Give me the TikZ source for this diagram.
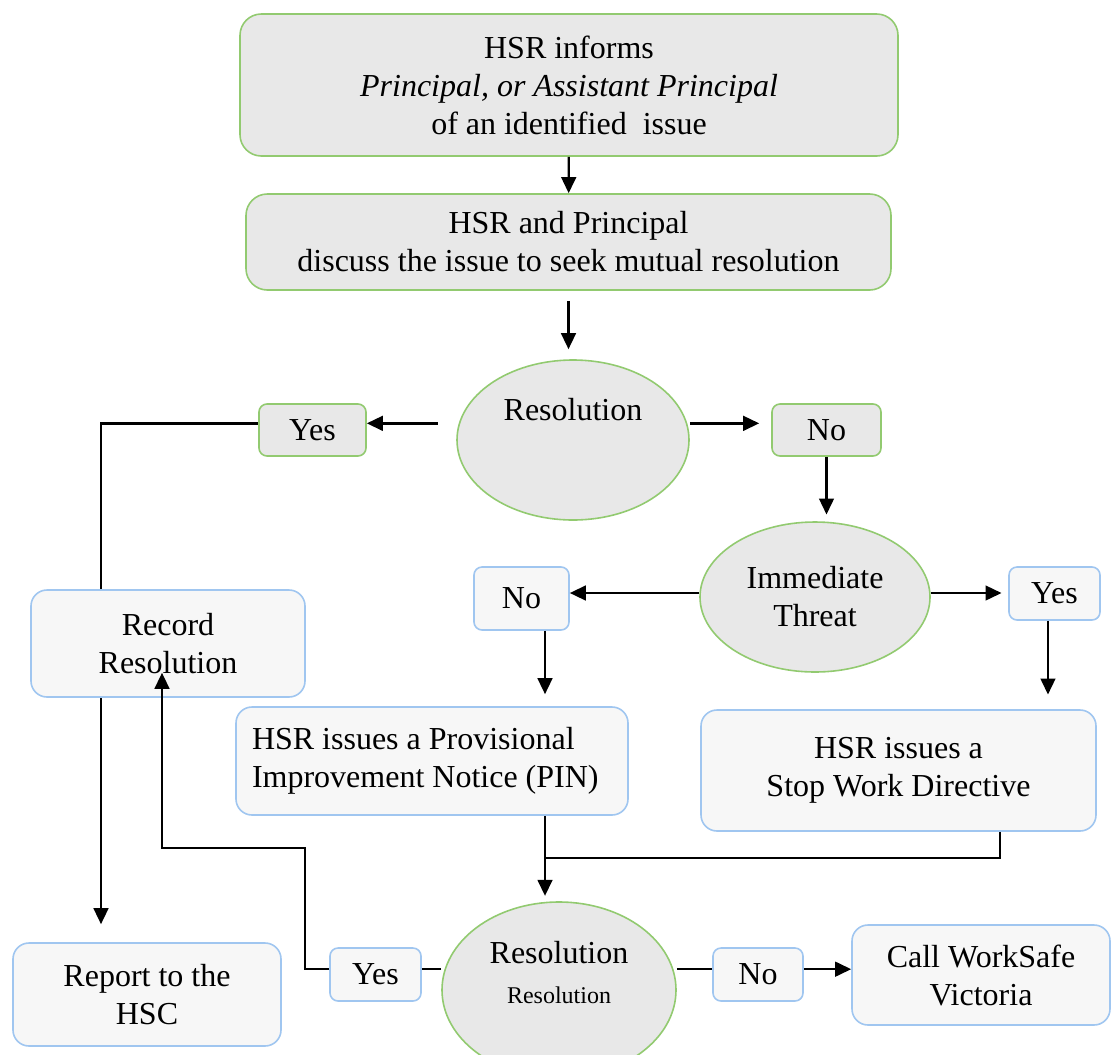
\documentclass[tikz,border=0pt]{standalone}
\usepackage{fontspec}
\setmainfont{Liberation Serif}
\usetikzlibrary{shapes.geometric,arrows.meta,backgrounds}
\definecolor{boxgreen}{RGB}{146,202,112}
\definecolor{boxblue}{RGB}{160,198,240}
\definecolor{boxgray}{RGB}{232,232,232}
\definecolor{boxwhite}{RGB}{247,247,247}
\begin{document}
\begin{tikzpicture}[x=0.75pt,y=-0.75pt,
        txt/.style={font=\fontsize{24}{28.5}\selectfont, align=center, inner sep=0pt},
        greenbox/.style={txt, draw=boxgreen, fill=boxgray, line width=1.2pt, rounded corners=16pt},
        bluebox/.style={txt, draw=boxblue, fill=boxwhite, line width=1.2pt, rounded corners=12pt},
        smallgreen/.style={greenbox, rounded corners=6pt},
        smallblue/.style={bluebox, rounded corners=6pt},
        choice/.style={txt, ellipse, draw=boxgreen, fill=boxgray, line width=1.2pt},
        link/.style={line width=1.8pt},
        arr/.style={link, -{Triangle[length=12pt,width=11pt]}}]
        \useasboundingbox (0,0) rectangle (1113,1054);

        \node[greenbox, minimum width=493.5pt, minimum height=106.5pt] (top) at (569,85)
            {HSR informs\\\textit{Principal, or Assistant Principal}\\of an identified\ \ issue};
        \node[greenbox, minimum width=483.75pt, minimum height=72pt] (disc) at (568.5,242)
            {HSR and Principal\\discuss the issue to seek mutual resolution};
        \node[choice, minimum width=174pt, minimum height=120pt,
            label={[txt,yshift=22.5pt]center:Resolution}] (res1) at (573,440) {};
        \node[smallgreen, minimum width=80.25pt, minimum height=39pt] (yes1) at (312.5,430) {Yes};
        \node[smallgreen, minimum width=81.75pt, minimum height=39pt] (no1) at (826.5,430) {No};
        \node[choice, minimum width=172.5pt, minimum height=112.5pt] (threat) at (815,597) {Immediate\\Threat};
        \node[smallblue, minimum width=71.25pt, minimum height=47.25pt] (no2) at (521.5,598.5) {No};
        \node[smallblue, minimum width=68.25pt, minimum height=39.75pt] (yes2) at (1054.5,593.5) {Yes};
        \node[bluebox, align=flush left, text width=270pt, minimum width=294pt, minimum height=81pt] (pin) at (432,761)
            {HSR issues a Provisional\\Improvement Notice (PIN)};
        \node[bluebox, minimum width=296.25pt, minimum height=90.75pt] (swd) at (898.5,770.5)
            {HSR issues a\\Stop Work Directive};
        \node[bluebox, minimum width=205.5pt, minimum height=80.25pt] (record) at (168,643.5) {Record\\Resolution};
        \node[choice, minimum width=175.5pt, minimum height=132pt,
            label={[txt,yshift=27.75pt]center:Resolution},
            label={[inner sep=0pt,font=\fontsize{18}{22}\selectfont,yshift=-3.75pt]center:Resolution}] (res2) at (559,990) {};
        \node[smallblue, minimum width=68.25pt, minimum height=39.75pt] (yes3) at (375.5,974.5) {Yes};
        \node[smallblue, minimum width=67.5pt, minimum height=39.75pt] (no3) at (758,974.5) {No};
        \node[bluebox, minimum width=193.5pt, minimum height=75pt] (call) at (981,975) {Call WorkSafe\\Victoria};
        \node[bluebox, minimum width=201pt, minimum height=77.25pt] (report) at (147,994.5) {Report to the\\HSC};
        \coordinate (mid) at (545,858);
        \coordinate (bend) at (305,848);

        \draw[arr] (top) -- (disc);
        \draw[arr, shorten <=7.5pt, shorten >=7.5pt] (disc.south) -- (disc.south |- res1.north);
        \draw[arr, shorten <=14pt] ([yshift=5pt]res1.west |- yes1.east) -- ([yshift=5pt]yes1.east);
        \begin{pgfonlayer}{background}
            \draw[arr, shorten >=13.5pt] ([yshift=5pt]yes1.west) -| ([xshift=-34.5pt]report.north);
        \end{pgfonlayer}
        \draw[arr, shorten >=9pt] ([yshift=5pt]res1.east |- no1.west) -- ([yshift=5pt]no1.west);
        \draw[arr, shorten >=5pt] (no1.south) -- (no1.south |- threat.north);
        \draw[arr] ([yshift=3pt]threat.west) -- ([yshift=3pt]threat.west -| no2.east);
        \draw[arr, shorten >=5pt] ([yshift=3pt]threat.east) -- ([yshift=3pt]threat.east -| yes2.west);
        \draw[arr, shorten >=9pt] (no2.south -| mid) -- (pin.north -| mid);
        \draw[arr, shorten >=11pt] ([xshift=-4.9pt]yes2.south) -- ([xshift=-4.9pt]yes2.south |- swd.north);
        \draw[link] (pin.south -| mid) -- (mid);
        \draw[link] ([xshift=76pt]swd.south) |- (mid);
        \draw[arr, shorten >=4pt] (mid) -- (mid |- res2.north);
        \draw[link] ([yshift=4pt]res2.west |- yes3.east) -- ([yshift=4pt]yes3.east);
        \draw[arr] ([yshift=4pt]yes3.west) -| (bend) -| ([xshift=-4.5pt,yshift=18.75pt]record.south);
        \draw[link] ([yshift=4pt]res2.east |- no3.west) -- ([yshift=4pt]no3.west);
        \draw[arr] ([yshift=4pt]no3.east) -- ([yshift=4pt]no3.east -| call.west);
    \end{tikzpicture}
\end{document}
